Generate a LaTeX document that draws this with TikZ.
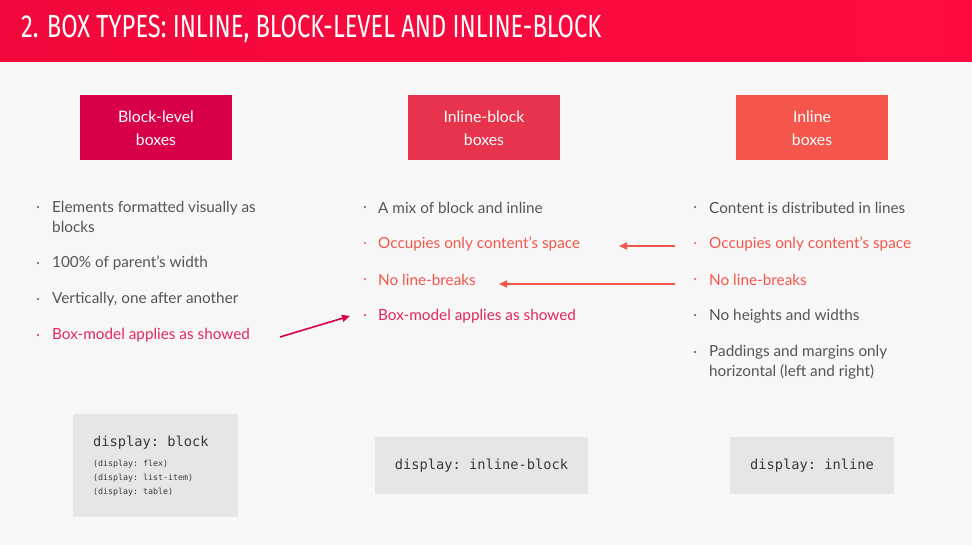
\documentclass[tikz,border=0pt]{standalone}
\usepackage{fontspec}
\setmainfont{Lato}
\setmonofont{DejaVu Sans Mono}
\newfontfamily\titlefont[FakeStretch=0.74]{Fira Sans}
\usetikzlibrary{arrows.meta}

\definecolor{pagebg}{HTML}{F7F7F7}
\definecolor{bandA}{HTML}{F2083C}
\definecolor{bandB}{HTML}{FF0B3F}
\definecolor{crimson}{HTML}{D9004B}
\definecolor{rose}{HTML}{E7334C}
\definecolor{coral}{HTML}{F5564C}
\definecolor{pinkred}{HTML}{E3285E}
\definecolor{bodygray}{HTML}{555555}
\definecolor{codebg}{HTML}{E6E6E6}
\definecolor{codegray}{HTML}{3A3A3A}

\tikzset{
  typebox/.style={minimum width=152pt, minimum height=65pt, inner sep=0pt,
    text=white, align=center, font=\fontsize{15.8}{22.5}\selectfont},
  item/.style={anchor=west, inner sep=0pt, text=bodygray, align=left,
    font=\fontsize{15.3}{19.5}\selectfont},
  dot/.style={circle, fill=#1, inner sep=0pt, minimum size=2.2pt},
  codebox/.style={fill=codebg, inner sep=0pt},
  codetext/.style={text=codegray, font=\ttfamily\fontsize{13.7}{15}\selectfont, inner sep=0pt},
  smallcode/.style={text=codegray, font=\ttfamily\fontsize{8.3}{9}\selectfont, inner sep=0pt, anchor=west},
  pointer/.style={line width=1.6pt, -{Triangle[length=8pt,width=7pt]}},
}

\begin{document}
\begin{tikzpicture}[x=1pt,y=-1pt]
\useasboundingbox (0,0) rectangle (972,545);
\fill[pagebg] (0,0) rectangle (972,545);
\shade[left color=bandA, right color=bandB] (0,0) rectangle (972,62);
\node[anchor=west, text=white, inner sep=0pt] (title) at (21,29)
  {\titlefont\fontsize{32}{32}\selectfont 2. BOX TYPES: INLINE, BLOCK-LEVEL AND INLINE-BLOCK};

% the three box types
\node[typebox, fill=crimson] (blockbox) at (156,128) {Block-level\\boxes};
\node[typebox, fill=rose] (ibbox) at (484,128) {Inline-block\\boxes};
\node[typebox, fill=coral] (inbox) at (812,128) {Inline\\boxes};

% block-level list
\node[dot=bodygray] (b1d) at (38,207) {};
\node[item] (b1) at (52,217) {Elements formatted visually as\\blocks};
\node[dot=bodygray] (b2d) at (38,263) {};
\node[item] (b2) at (52,263) {100\% of parent’s width};
\node[dot=bodygray] (b3d) at (38,299) {};
\node[item] (b3) at (52,299) {Vertically, one after another};
\node[dot=pinkred] (b4d) at (38,335) {};
\node[item, text=pinkred] (b4) at (52,335) {Box-model applies as showed};

% inline-block list
\node[dot=bodygray] (m1d) at (365,207) {};
\node[item] (m1) at (378,208) {A mix of block and inline};
\node[dot=coral] (m2d) at (365,243) {};
\node[item, text=coral] (m2) at (378,244) {Occupies only content's space};
\node[dot=coral] (m3d) at (365,279) {};
\node[item, text=coral] (m3) at (378,280) {No line-breaks};
\node[dot=pinkred] (m4d) at (365,315) {};
\node[item, text=pinkred] (m4) at (378,316) {Box-model applies as showed};

% inline list
\node[dot=bodygray] (i1d) at (695,207) {};
\node[item] (i1) at (709,208) {Content is distributed in lines};
\node[dot=coral] (i2d) at (695,243) {};
\node[item, text=coral] (i2) at (709,244) {Occupies only content’s space};
\node[dot=coral] (i3d) at (695,279) {};
\node[item, text=coral] (i3) at (709,280) {No line-breaks};
\node[dot=bodygray] (i4d) at (695,315) {};
\node[item] (i4) at (709,316) {No heights and widths};
\node[dot=bodygray] (i5d) at (695,352) {};
\node[item] (i5) at (709,362.5) {Paddings and margins only\\horizontal (left and right)};

% pointers between the lists
\coordinate (pa) at (280,337);
\coordinate (pb) at (350,316);
\draw[pointer, crimson] (pa) -- (pb);
\coordinate (qa) at (675,246);
\coordinate (qb) at (619,246);
\draw[pointer, coral] (qa) -- (qb);
\coordinate (ra) at (675,284);
\coordinate (rb) at (499,284);
\draw[pointer, coral] (ra) -- (rb);

% display values
\fill[codebg] (73,414) rectangle (238,517);
\node[codetext, anchor=west] (c1) at (93,443) {display: block};
\node[smallcode] (c1a) at (93,464) {(display: flex)};
\node[smallcode] (c1b) at (93,478) {(display: list-item)};
\node[smallcode] (c1c) at (93,492) {(display: table)};

\fill[codebg] (375,437) rectangle (588,494);
\node[codetext] (c2) at (481.5,466) {display: inline-block};

\fill[codebg] (730,437) rectangle (894,494);
\node[codetext] (c3) at (812,466) {display: inline};
\end{tikzpicture}
\end{document}
